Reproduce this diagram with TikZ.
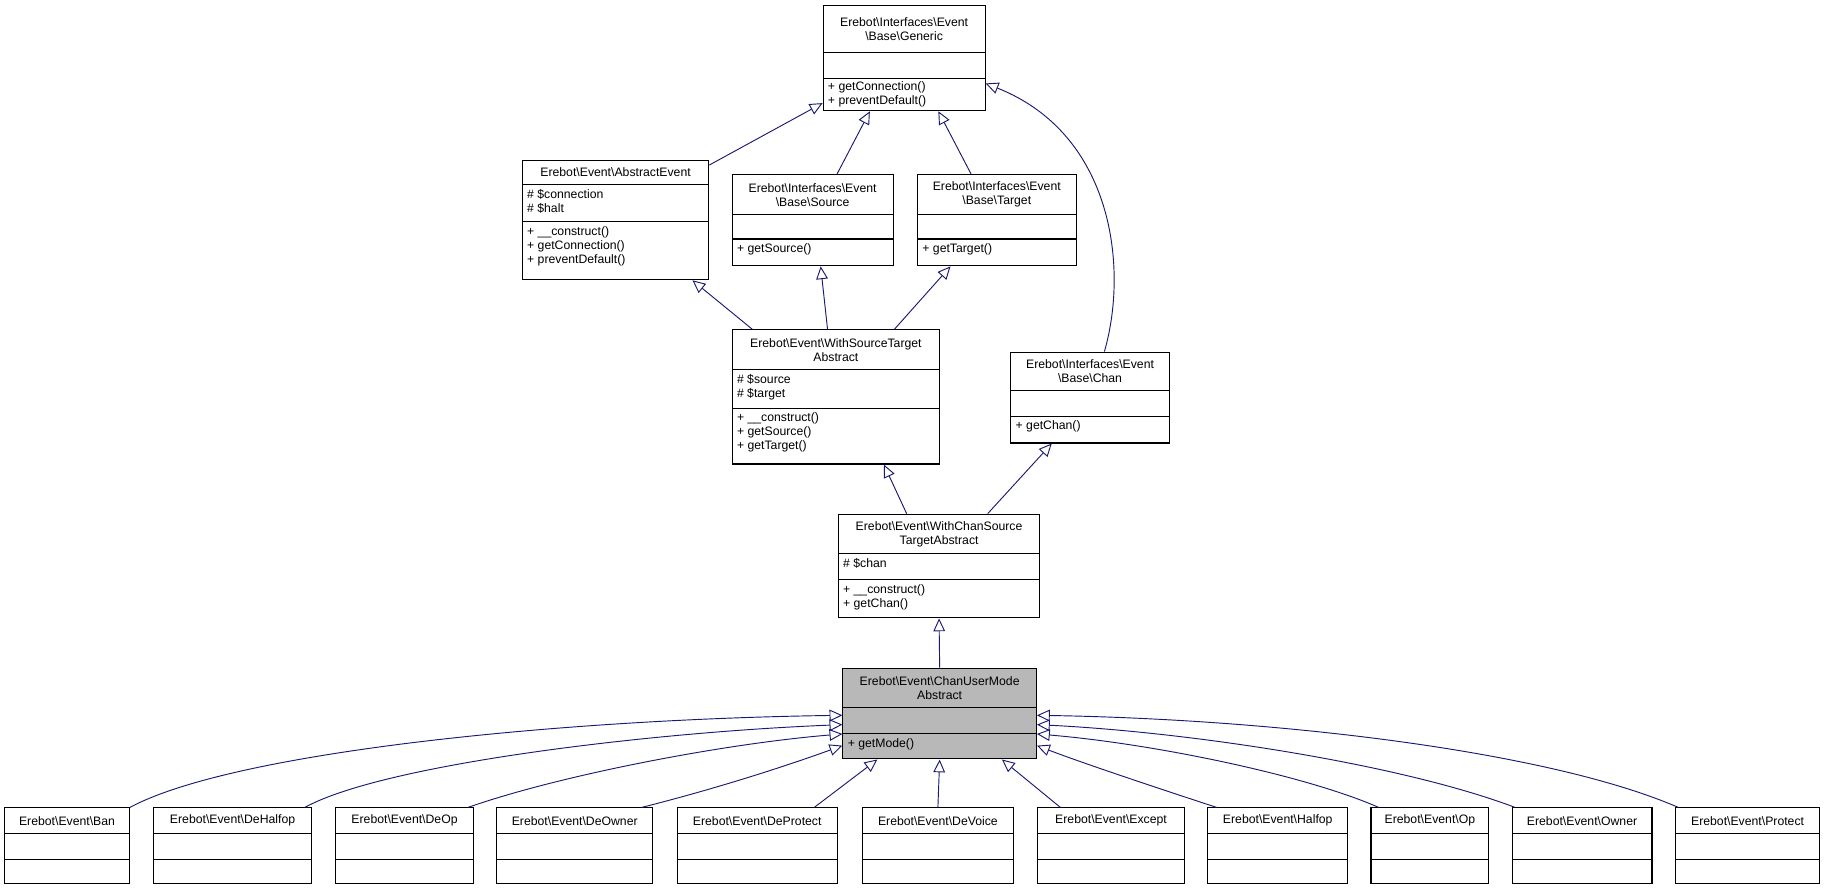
\documentclass[tikz,border=0pt]{standalone}
\usepackage{fontspec}
\setmainfont{Liberation Sans}
\usetikzlibrary{arrows.meta,fit,calc}
\definecolor{edge}{HTML}{191970}
\tikzset{
  box/.style={draw,line width=0.9pt,inner sep=0pt},
  cell/.style={inner sep=0pt,font=\fontsize{10.5}{12}\selectfont},
  ttl/.style={cell,align=center},
  mem/.style={cell,align=left,anchor=north west},
  inh/.style={draw=edge,line width=0.8pt,-{Triangle[open,length=11pt,width=10pt]}}
}
% name, x1, y1, x2, y2, ya, yb, fill
\newcommand\clsbox[8]{%
  \coordinate (#1-nw) at (#2,#3);
  \coordinate (#1-se) at (#4,#5);
  \node[box,fill=#8,fit=(#1-nw)(#1-se)] (#1) {};
  \draw[line width=0.9pt] (#2,#6) -- (#4,#6) (#2,#7) -- (#4,#7);
}
\begin{document}
\begin{tikzpicture}[x=1pt,y=-1pt]
\useasboundingbox (0,0) rectangle (1568,764);
% classes
\clsbox{g}{706}{5}{845}{95}{45}{67}{white}
\node[ttl] (gt) at (775.5,25) {Erebot\textbackslash Interfaces\textbackslash Event\\\textbackslash Base\textbackslash Generic};
\node[mem] (gm) at (710,70) {+ getConnection()\\+ preventDefault()};

\clsbox{ae}{448}{138}{608}{240}{158}{190}{white}
\node[ttl] (aet) at (528,148) {Erebot\textbackslash Event\textbackslash AbstractEvent};
\node[mem] (aea) at (452,162) {\# \$connection\\\# \$halt};
\node[mem] (aem) at (452,194) {+ \_\_construct()\\+ getConnection()\\+ preventDefault()};

\clsbox{src}{628}{150}{766}{228}{184}{205}{white}
\node[ttl] (srct) at (697,167) {Erebot\textbackslash Interfaces\textbackslash Event\\\textbackslash Base\textbackslash Source};
\node[mem] (srcm) at (632,209) {+ getSource()};

\clsbox{tgt}{787}{150}{923}{228}{184}{205}{white}
\node[ttl] (tgtt) at (855,167) {Erebot\textbackslash Interfaces\textbackslash Event\\\textbackslash Base\textbackslash Target};
\node[mem] (tgtm) at (791,209) {+ getTarget()};

\clsbox{wst}{628}{283}{806}{398}{317}{350}{white}
\node[ttl] (wstt) at (717,300) {Erebot\textbackslash Event\textbackslash WithSourceTarget\\Abstract};
\node[mem] (wsta) at (632,321) {\# \$source\\\# \$target};
\node[mem] (wstm) at (632,354) {+ \_\_construct()\\+ getSource()\\+ getTarget()};

\clsbox{ch}{867}{302}{1003}{380}{335}{357}{white}
\node[ttl] (cht) at (935,318.5) {Erebot\textbackslash Interfaces\textbackslash Event\\\textbackslash Base\textbackslash Chan};
\node[mem] (chm) at (871,361) {+ getChan()};

\clsbox{wc}{719}{441}{892}{530}{475}{497}{white}
\node[ttl] (wct) at (805.5,458) {Erebot\textbackslash Event\textbackslash WithChanSource\\TargetAbstract};
\node[mem] (wca) at (723,479) {\# \$chan};
\node[mem] (wcm) at (723,501) {+ \_\_construct()\\+ getChan()};

\clsbox{cum}{723}{573}{889}{651}{607}{629}{black!28}
\node[ttl] (cumt) at (806,590) {Erebot\textbackslash Event\textbackslash ChanUserMode\\Abstract};
\node[mem] (cumm) at (727,633) {+ getMode()};

% bottom row
\foreach \n/\a/\b/\t in {ban/4/111/Ban, dh/132/267/DeHalfop, dop/288/406/DeOp, dow/426/560/DeOwner, dp/581/718/DeProtect, dv/740/869/DeVoice, ex/890/1016/Except, hf/1036/1156/Halfop, op/1176/1277/Op, ow/1297/1417/Owner, pr/1437/1561/Protect}{
  \clsbox{\n}{\a}{693}{\b}{758}{715}{737}{white}
  \node[ttl] (\n t) at ({(\a+\b)/2},704) {Erebot\textbackslash Event\textbackslash \t};
}

% inheritance
\draw[inh] (ae.north east) ++(0,4) coordinate (ae1) -- ($(g.south west)+(0,-7)$);
\draw[inh] ($(src.north west)!0.65!(src.north east)$) -- ($(g.south west)!0.29!(g.south east)$);
\draw[inh] ($(tgt.north west)!0.34!(tgt.north east)$) -- ($(g.south west)!0.71!(g.south east)$);
\draw[inh] ($(ch.north west)!0.59!(ch.north east)$) .. controls (968,230) and (955,115) .. ($(g.north east)+(0,67)$);
\draw[inh] ($(wst.north west)!0.1!(wst.north east)$) -- ($(ae.south west)!0.91!(ae.south east)$);
\draw[inh] ($(wst.north west)!0.46!(wst.north east)$) -- ($(src.south west)!0.55!(src.south east)$);
\draw[inh] ($(wst.north west)!0.78!(wst.north east)$) -- ($(tgt.south west)!0.21!(tgt.south east)$);
\draw[inh] ($(wc.north west)!0.34!(wc.north east)$) -- ($(wst.south west)!0.73!(wst.south east)$);
\draw[inh] ($(wc.north west)!0.74!(wc.north east)$) -- ($(ch.south west)!0.26!(ch.south east)$);
\draw[inh] (cum.north) -- (wc.south);

\draw[inh] (ban.north east) .. controls (200,645) and (480,617) .. ($(cum.north west)+(0,41)$);
\draw[inh] ($(dh.north east)+(-6,0)$) .. controls (330,655) and (560,628) .. ($(cum.north west)+(0,49)$);
\draw[inh] ($(dop.north east)+(-5,0)$) .. controls (480,665) and (620,638) .. ($(cum.north west)+(0,57)$);
\draw[inh] ($(dow.north east)+(-10,0)$) .. controls (620,675) and (680,655) .. ($(cum.north west)+(0,67)$);
\draw[inh] ($(dp.north east)+(-20,0)$) -- ($(cum.south west)!0.18!(cum.south east)$);
\draw[inh] (dv.north) -- (cum.south);
\draw[inh] ($(ex.north west)+(20,0)$) -- ($(cum.south west)!0.82!(cum.south east)$);
\draw[inh] ($(hf.north west)+(8,0)$) .. controls (990,675) and (930,655) .. ($(cum.north east)+(0,67)$);
\draw[inh] ($(op.north west)+(7,0)$) .. controls (1120,665) and (990,638) .. ($(cum.north east)+(0,57)$);
\draw[inh] ($(ow.north west)+(3,0)$) .. controls (1200,655) and (1020,628) .. ($(cum.north east)+(0,49)$);
\draw[inh] ($(pr.north west)+(3,0)$) .. controls (1330,645) and (1100,617) .. ($(cum.north east)+(0,41)$);
\end{tikzpicture}
\end{document}
